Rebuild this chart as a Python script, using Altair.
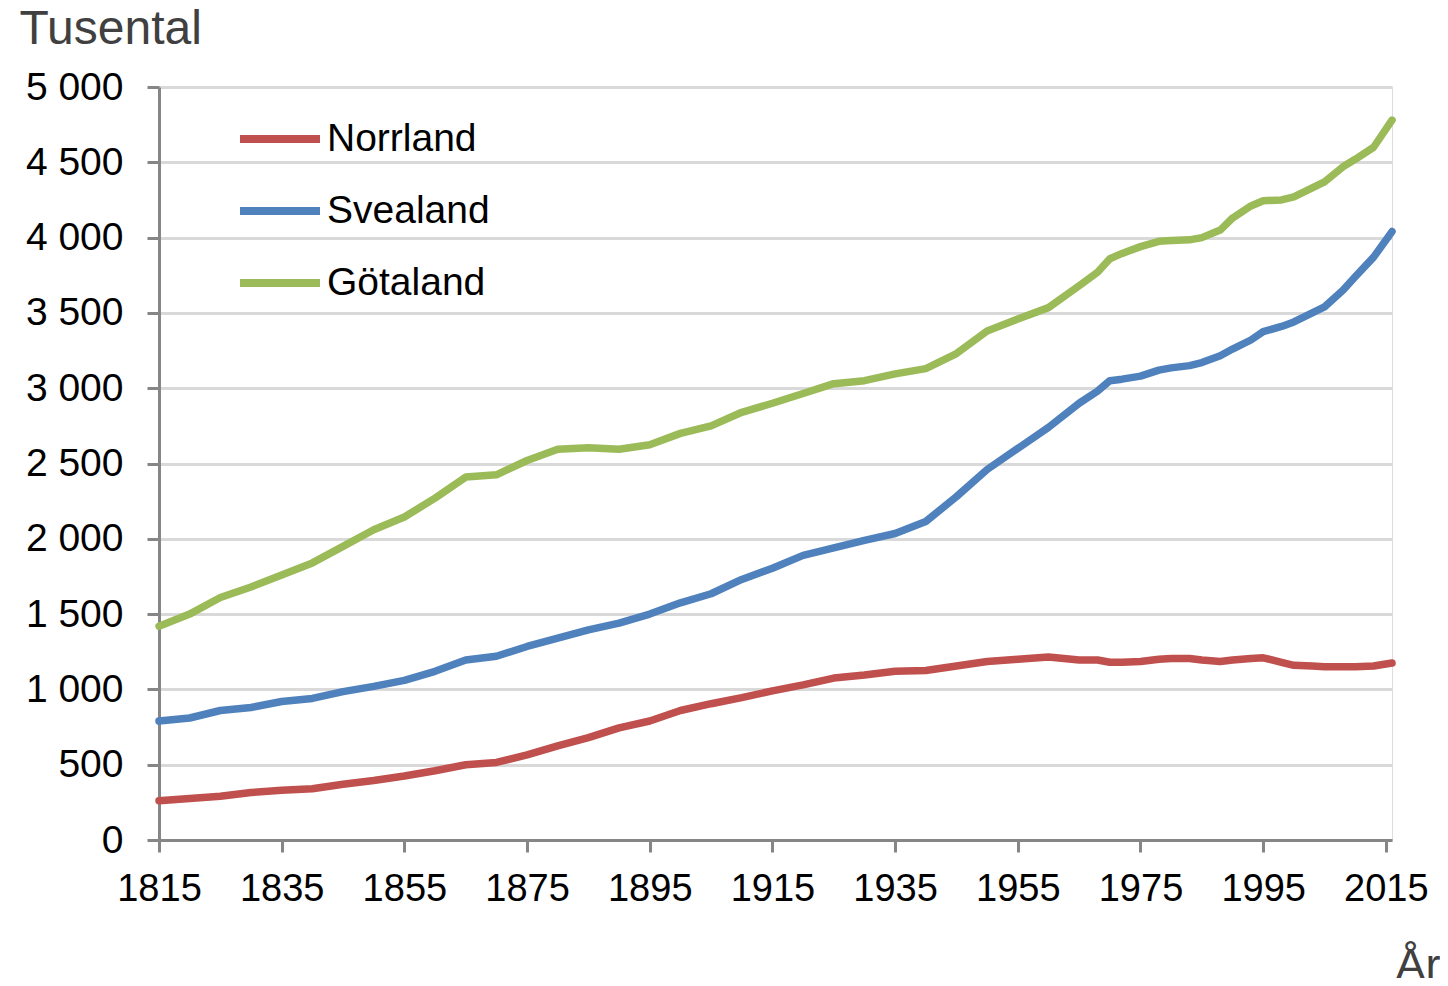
import altair as alt
import pandas as pd

years = [1815, 1820, 1825, 1830, 1835, 1840, 1845, 1850, 1855, 1860,
         1865, 1870, 1875, 1880, 1885, 1890, 1895, 1900, 1905, 1910,
         1915, 1920, 1925, 1930, 1935, 1940, 1945, 1950, 1955, 1960,
         1965, 1968, 1970, 1972, 1975, 1978, 1980, 1983, 1985, 1988,
         1990, 1993, 1995, 1998, 2000, 2003, 2005, 2008, 2010, 2013, 2016]

norrland = [260, 275, 290, 315, 330, 340, 370, 395, 425, 460,
            500, 515, 565, 625, 680, 745, 790, 860, 905, 945,
            990, 1030, 1075, 1095, 1120, 1125, 1155, 1185, 1200, 1215,
            1195, 1195, 1180, 1180, 1185, 1200, 1205, 1205, 1195, 1185,
            1195, 1205, 1210, 1180, 1160, 1155, 1150, 1150, 1150, 1155, 1175]

svealand = [790, 810, 860, 880, 920, 940, 985, 1020, 1060, 1120,
            1195, 1220, 1285, 1340, 1395, 1440, 1500, 1575, 1635, 1730,
            1805, 1890, 1940, 1990, 2035, 2115, 2280, 2460, 2600, 2740,
            2900, 2980, 3050, 3060, 3080, 3120, 3135, 3150, 3170, 3215,
            3260, 3320, 3375, 3410, 3440, 3500, 3540, 3650, 3740, 3870, 4040]

gotaland = [1420, 1500, 1610, 1680, 1760, 1840, 1950, 2060, 2145, 2270,
            2410, 2425, 2520, 2595, 2605, 2595, 2625, 2700, 2750, 2840,
            2900, 2965, 3030, 3050, 3095, 3130, 3230, 3380, 3460, 3535,
            3680, 3770, 3860, 3895, 3940, 3975, 3980, 3985, 4000, 4050,
            4130, 4210, 4245, 4250, 4270, 4330, 4370, 4470, 4520, 4600, 4780]

series = ["Norrland", "Svealand", "Götaland"]
colors = ["#C0504D", "#4F81BD", "#9BBB59"]
x_ticks = [1815, 1835, 1855, 1875, 1895, 1915, 1935, 1955, 1975, 1995, 2015]
y_ticks = [0, 500, 1000, 1500, 2000, 2500, 3000, 3500, 4000, 4500, 5000]

rows = []
for name, vals in zip(series, [norrland, svealand, gotaland]):
    for yr, v in zip(years, vals):
        rows.append({"År": yr, "Värde": v, "Region": name})
df = pd.DataFrame(rows)

font = "Liberation Sans"

chart = alt.Chart(df).mark_line(strokeWidth=7.5, strokeCap="round", strokeJoin="round").encode(
    x=alt.X("År:Q",
            scale=alt.Scale(domain=[1815, 2016], nice=False, zero=False),
            axis=alt.Axis(values=x_ticks, format="d", title="År", grid=False,
                          titleAngle=0, titleX=1236, titleY=125, titleAlign="left",
                          titleBaseline="middle", titleFontSize=45, titleFontWeight="normal",
                          titleColor="#404040", titleFont=font,
                          labelFontSize=38, labelFont=font, labelColor="#000000",
                          labelPadding=18, tickSize=12, tickWidth=3, tickColor="#868686",
                          domainColor="#868686", domainWidth=3, labelFlush=False,
                          labelOverlap=False)),
    y=alt.Y("Värde:Q",
            scale=alt.Scale(domain=[0, 5000], nice=False),
            axis=alt.Axis(values=y_ticks, title="Tusental",
                          labelExpr="replace(format(datum.value, ',d'), ',', ' ')",
                          titleAngle=0, titleX=-140, titleY=-58, titleAlign="left",
                          titleBaseline="middle", titleFontSize=48, titleFontWeight="normal",
                          titleColor="#404040", titleFont=font,
                          labelFontSize=39, labelFont=font, labelColor="#000000",
                          labelPadding=24, tickSize=12, tickWidth=3, tickColor="#868686",
                          domainColor="#868686", domainWidth=3,
                          gridColor="#D9D9D9", gridWidth=3, labelOverlap=False)),
    color=alt.Color("Region:N",
                    scale=alt.Scale(domain=series, range=colors),
                    sort=series,
                    legend=alt.Legend(title=None, orient="none", legendX=77, legendY=8,
                                      symbolType="stroke", symbolSize=6400,
                                      symbolStrokeWidth=8, labelFontSize=39,
                                      labelFont=font, labelColor="#000000",
                                      labelLimit=500,
                                      labelOffset=3, rowPadding=8, padding=0,
                                      direction="vertical")),
).properties(
    width=1233, height=753,
    autosize=alt.AutoSizeParams(type="none"),
    padding={"left": 151, "top": 79, "right": 48, "bottom": 138},
).configure_view(stroke=None).configure(background="white")

chart.save("out.html", embed_options={"renderer": "svg", "actions": False})
